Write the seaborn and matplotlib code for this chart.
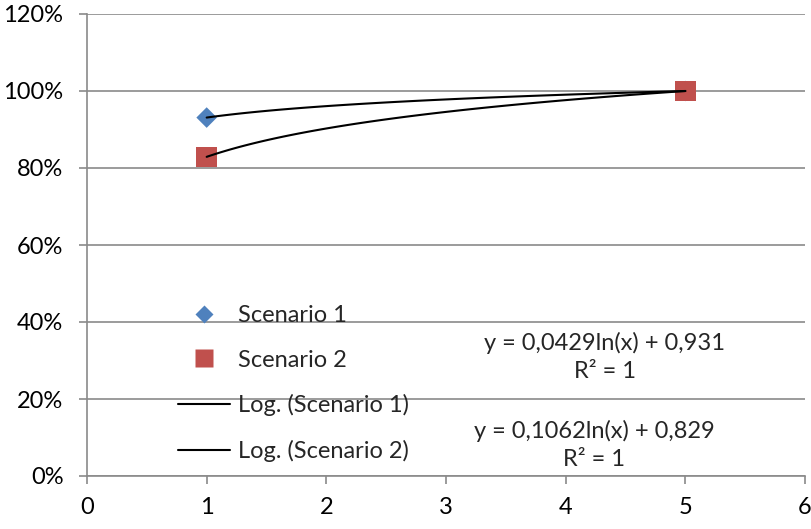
import numpy as np
import pandas as pd
import matplotlib
matplotlib.use("Agg")
import matplotlib.pyplot as plt
from matplotlib.ticker import PercentFormatter, MultipleLocator
from matplotlib.lines import Line2D
import seaborn as sns

# ---- data ----
x_vals = [1, 5]
scenario1 = [0.931, 1.0]
scenario2 = [0.829, 1.0]
series_names = ["Scenario 1", "Scenario 2"]
trend_names = ["Log. (Scenario 1)", "Log. (Scenario 2)"]
equations = ["y = 0,0429ln(x) + 0,931\nR² = 1", "y = 0,1062ln(x) + 0,829\nR² = 1"]

sns.set_theme(style="white")
plt.rcParams["font.family"] = ["Lato", "DejaVu Sans"]

grid_col = "#8a8a8a"
blue = "#4F81BD"
red = "#C0504D"
fs = 17

fig = plt.figure(figsize=(8.11, 5.29), dpi=100)
ax = fig.add_axes([87/811, 1-476/529, (805-87)/811, (476-14)/529])

df1 = pd.DataFrame({"x": x_vals, "y": scenario1})
df2 = pd.DataFrame({"x": x_vals, "y": scenario2})

sns.scatterplot(data=df1, x="x", y="y", marker="D", s=110, color=blue,
                edgecolor="none", ax=ax, zorder=3)
sns.scatterplot(data=df2, x="x", y="y", marker="s", s=220, color=red,
                edgecolor="none", ax=ax, zorder=4)
sns.regplot(data=df1, x="x", y="y", logx=True, scatter=False, ci=None,
            truncate=True, color="black", line_kws={"lw": 1.5, "zorder": 5}, ax=ax)
sns.regplot(data=df2, x="x", y="y", logx=True, scatter=False, ci=None,
            truncate=True, color="black", line_kws={"lw": 1.5, "zorder": 5}, ax=ax)

ax.set_xlim(0, 6)
ax.set_ylim(0, 1.2)
ax.xaxis.set_major_locator(MultipleLocator(1))
ax.yaxis.set_major_locator(MultipleLocator(0.2))
ax.yaxis.set_major_formatter(PercentFormatter(1.0, decimals=0))
ax.set_xlabel("")
ax.set_ylabel("")
ax.grid(axis="y", color=grid_col, lw=1.2)
ax.set_axisbelow(True)
for s in ["top", "right"]:
    ax.spines[s].set_visible(False)
for s in ["left", "bottom"]:
    ax.spines[s].set_color(grid_col)
    ax.spines[s].set_linewidth(1.2)
ax.tick_params(axis="both", direction="out", length=6, width=1.2, color=grid_col,
               labelsize=fs, labelcolor="black")
ax.tick_params(axis="y", pad=11)
ax.tick_params(axis="x", pad=9)
ax.tick_params(bottom=True, left=True)

handles = [
    Line2D([], [], ls="none", marker="D", ms=9, color=blue, mec="none"),
    Line2D([], [], ls="none", marker="s", ms=13, color=red, mec="none"),
    Line2D([], [], color="black", lw=1.5),
    Line2D([], [], color="black", lw=1.5),
]
fig.legend(handles, series_names + trend_names, loc="upper left",
           bbox_to_anchor=(178/811, 1-305/529), frameon=False, fontsize=fs,
           handlelength=2.2, handletextpad=0.35, labelspacing=1.0,
           borderpad=0, borderaxespad=0)

fig.text(605/811, 1-357/529, equations[0], ha="center", va="center",
         fontsize=fs, linespacing=1.45)
fig.text(594/811, 1-445/529, equations[1], ha="center", va="center",
         fontsize=fs, linespacing=1.45)

fig.savefig("out.png", dpi=100)
